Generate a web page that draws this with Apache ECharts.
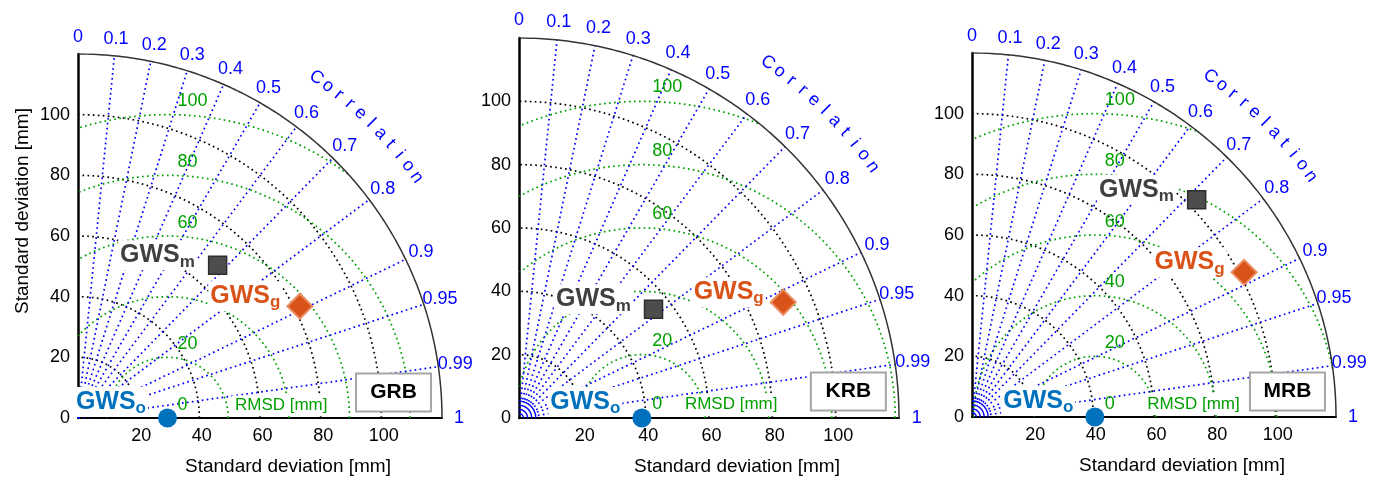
<!DOCTYPE html>
<html>
<head>
<meta charset="utf-8">
<script src="https://cdn.jsdelivr.net/npm/echarts@6/dist/echarts.min.js"></script>
<style>
  html, body { margin: 0; padding: 0; background: #fff; }
  #chart { width: 1381px; height: 477px; }
</style>
</head>
<body>
<div id="chart"></div>
<script>
// values
const basins = ['GRB', 'KRB', 'MRB'];
const refStd = [29.5, 38.8, 40.5];          // GWS_o
const modelStd = [68.2, 54.6, 103.0];       // GWS_m
const modelCorr = [0.675, 0.778, 0.719];
const graceStd = [81.9, 91.1, 101.6];       // GWS_g
const graceCorr = [0.893, 0.916, 0.883];

const corrTicks = [0.1, 0.2, 0.3, 0.4, 0.5, 0.6, 0.7, 0.8, 0.9, 0.95, 0.99];
const corrLabels = [0, 0.1, 0.2, 0.3, 0.4, 0.5, 0.6, 0.7, 0.8, 0.9, 0.95, 0.99, 1];
const stdArcs = [20, 40, 60, 80, 100];
const rmsdArcs = [20, 40, 60, 80, 100];
const rmsdLabels = [[0, 20, 60, 80, 100], [0, 20, 60, 80, 100], [0, 20, 40, 60, 80, 100]];
const stdMax = 120;

// layout of the three panels (pixels)
const panels = [
  { left: 78, top: 54, size: 364, yName: true, rmsdX: 67, nearArcs: false },
  { left: 519, top: 38, size: 380, yName: false, rmsdX: 67, nearArcs: true },
  { left: 972, top: 53, size: 364, yName: false, rmsdX: 73, nearArcs: true }
];

const FONT = '"Liberation Sans", Arial, sans-serif';
const BLUE = '#0000ff';
const GREEN = '#00a000';
const DOT = [1.7, 3.3];

function toXY(r, c) {
  return [r * c, r * Math.sqrt(Math.max(0, 1 - c * c))];
}

function arcPts(cx, r, a0, a1, n) {
  const pts = [];
  for (let k = 0; k <= n; k++) {
    const a = (a0 + (a1 - a0) * k / n) * Math.PI / 180;
    pts.push([cx + r * Math.cos(a), r * Math.sin(a)]);
  }
  return pts;
}

// keep only the pieces that fall inside the quarter disc
function clipRuns(pts) {
  const runs = [];
  let cur = [];
  pts.forEach(p => {
    const inside = p[0] >= 0 && p[1] >= 0 && p[0] * p[0] + p[1] * p[1] <= stdMax * stdMax;
    if (inside) cur.push(p);
    else if (cur.length) { runs.push(cur); cur = []; }
  });
  if (cur.length) runs.push(cur);
  return runs.filter(r => r.length > 1);
}

function gwsLabel(sub, color, offY, dist) {
  return {
    show: true,
    position: 'left',
    distance: dist,
    offset: [0, offY],
    formatter: '{a|GWS}{b|' + sub + '}',
    backgroundColor: '#fff',
    padding: [0, 2, 0, 2],
    rich: {
      a: { fontSize: 25, fontWeight: 'bold', color: color, lineHeight: 30, fontFamily: FONT },
      b: { fontSize: 17, fontWeight: 'bold', color: color, lineHeight: 11, verticalAlign: 'bottom', fontFamily: FONT }
    }
  };
}

const grid = [], xAxis = [], yAxis = [], series = [];

panels.forEach((p, i) => {
  const ax = { xAxisIndex: i, yAxisIndex: i };
  const ref = refStd[i];

  grid.push({ left: p.left, top: p.top, width: p.size, height: p.size, outerBoundsMode: 'none', containLabel: false });
  xAxis.push({
    gridIndex: i, type: 'value', min: 0, max: stdMax, interval: 20,
    axisLine: { show: true, onZero: false, lineStyle: { color: '#000', width: 2 } },
    axisTick: { show: false }, splitLine: { show: false },
    axisLabel: { fontSize: 18, color: '#000', margin: 9, fontFamily: FONT, padding: [0, 0, 0, 5],
      formatter: v => (v > 0 && v < stdMax) ? String(v) : '' },
    name: 'Standard deviation [mm]', nameLocation: 'middle', nameGap: 39,
    nameTextStyle: { fontSize: 19, color: '#000', fontFamily: FONT, padding: [0, 0, 0, 56] }
  });
  yAxis.push({
    gridIndex: i, type: 'value', min: 0, max: stdMax, interval: 20,
    axisLine: { show: true, onZero: false, lineStyle: { color: '#000', width: 2.5 } },
    axisTick: { show: false }, splitLine: { show: false },
    axisLabel: { fontSize: 18, color: '#000', margin: 8, fontFamily: FONT,
      formatter: v => v < stdMax ? String(v) : '' },
    name: p.yName ? 'Standard deviation [mm]' : '', nameLocation: 'middle', nameGap: 46,
    nameTextStyle: { fontSize: 19, color: '#000', fontFamily: FONT, padding: [0, 0, 0, 50] }
  });

  const lineBase = Object.assign({ type: 'lines', coordinateSystem: 'cartesian2d', polyline: true, silent: true, z: 1 }, ax);

  // standard deviation arcs
  series.push(Object.assign({}, lineBase, {
    lineStyle: { color: '#000', width: 1.7, type: DOT, opacity: 1 },
    data: stdArcs.map(r => ({ coords: arcPts(0, r, 0, 90, 120) }))
  }));

  // RMSD arcs around the reference point
  const rmsdData = [];
  rmsdArcs.forEach(R => clipRuns(arcPts(ref, R, 0, 180, 360)).forEach(run => rmsdData.push({ coords: run })));
  series.push(Object.assign({}, lineBase, {
    lineStyle: { color: GREEN, width: 1.7, type: DOT, opacity: 1 },
    data: rmsdData
  }));

  // correlation rays
  const r0 = p.nearArcs ? 6 : 0;
  series.push(Object.assign({}, lineBase, {
    lineStyle: { color: BLUE, width: 1.7, type: DOT, opacity: 1 },
    data: corrTicks.map(c => ({ coords: [toXY(r0, c), toXY(stdMax, c)] }))
  }));

  if (p.nearArcs) {
    series.push(Object.assign({}, lineBase, {
      lineStyle: { color: BLUE, width: 1.4, opacity: 1 },
      data: [1.4, 2.7, 4.0, 5.3].map(r => ({ coords: arcPts(0, r, 0, 90, 30) }))
    }));
  }

  // outer arc
  series.push(Object.assign({}, lineBase, {
    lineStyle: { color: '#333', width: 1.5, opacity: 1 },
    data: [{ coords: arcPts(0, stdMax, 0, 90, 180) }]
  }));

  const textBase = Object.assign({ type: 'scatter', symbolSize: 0, clip: false, silent: true, z: 5,
    itemStyle: { opacity: 1 } }, ax);

  // correlation tick labels
  series.push(Object.assign({}, textBase, {
    label: { show: true, position: 'inside', color: BLUE, fontSize: 18, fontFamily: FONT, formatter: '{b}' },
    data: corrLabels.map(c => ({ name: String(c), value: toXY(125.6, c) }))
  }));

  // "Correlation" title along the arc
  const letters = 'Correlation'.split('');
  series.push(Object.assign({}, textBase, {
    data: letters.map((ch, k) => {
      const ang = 55 - k * 1.96;
      const a = ang * Math.PI / 180;
      return {
        value: [137 * Math.cos(a), 137 * Math.sin(a)],
        label: { show: true, position: 'inside', formatter: ch, rotate: ang - 90,
          color: BLUE, fontSize: 18, fontFamily: FONT }
      };
    })
  }));

  // RMSD contour labels
  series.push(Object.assign({}, textBase, {
    label: { show: true, position: 'right', distance: 0, color: GREEN, fontSize: 18, fontFamily: FONT, formatter: '{b}' },
    data: rmsdLabels[i].map(R => ({ name: String(R), value: [ref + 3.3, R + 4.4] }))
  }));

  // RMSD title and basin box
  series.push(Object.assign({}, textBase, {
    z: 6,
    data: [
      { value: [p.rmsdX, 4.3], label: { show: true, position: 'inside', formatter: 'RMSD [mm]',
          color: GREEN, fontSize: 17, fontFamily: FONT, backgroundColor: '#fff', padding: [1, 3] } },
      { value: [104, 8.4], label: { show: true, position: 'inside', formatter: basins[i],
          color: '#000', fontSize: 21, fontWeight: 'bold', fontFamily: FONT,
          backgroundColor: '#fff', borderColor: '#a6a6a6', borderWidth: 2,
          width: 73, height: 36, lineHeight: 36, align: 'center' } }
    ]
  }));

  // markers
  const markBase = Object.assign({ type: 'scatter', clip: false, silent: true, z: 10 }, ax);
  series.push(Object.assign({}, markBase, {
    symbol: 'rect', symbolSize: 18,
    itemStyle: { color: '#4d4d4d', borderColor: '#2e2e2e', borderWidth: 1.5, opacity: 1 },
    label: gwsLabel('m', '#404040', -10, 11),
    data: [toXY(modelStd[i], modelCorr[i])]
  }));
  series.push(Object.assign({}, markBase, {
    symbol: 'diamond', symbolSize: 25,
    itemStyle: { color: '#d95319', borderColor: '#ea8c62', borderWidth: 2, opacity: 1 },
    label: gwsLabel('g', '#d95319', -10, 4),
    data: [toXY(graceStd[i], graceCorr[i])]
  }));
  series.push(Object.assign({}, markBase, {
    symbol: 'circle', symbolSize: 19,
    itemStyle: { color: '#0072bd', opacity: 1 },
    label: gwsLabel('o', '#0072bd', -16, 10),
    data: [[ref, 0]]
  }));
});

const chart = echarts.init(document.getElementById('chart'));
chart.setOption({
  animation: false,
  backgroundColor: '#fff',
  textStyle: { fontFamily: FONT },
  grid: grid,
  xAxis: xAxis,
  yAxis: yAxis,
  series: series
});
</script>
</body>
</html>
